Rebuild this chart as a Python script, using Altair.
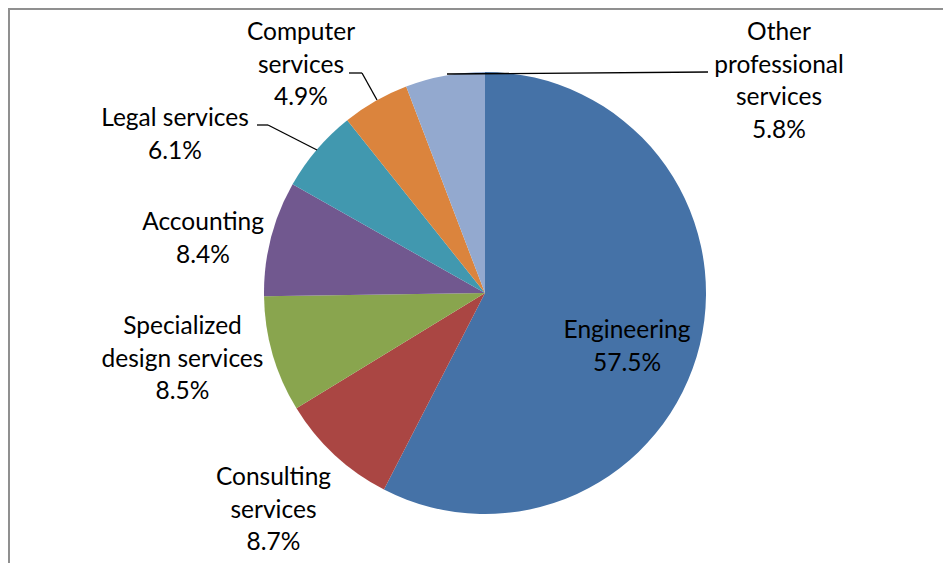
import altair as alt
import pandas as pd

# ---- data ----
categories = ["Engineering", "Consulting services", "Specialized design services",
              "Accounting", "Legal services", "Computer services",
              "Other professional services"]
shares = [57.5, 8.7, 8.5, 8.4, 6.1, 4.9, 5.8]
colors = ["#4572A7", "#AA4643", "#89A54E", "#71588F", "#4198AF", "#DB843D", "#93A9CF"]
label_lines = [["Engineering"], ["Consulting", "services"], ["Specialized", "design services"],
               ["Accounting"], ["Legal services"], ["Computer", "services"],
               ["Other", "professional", "services"]]

# ---- layout (annotation placement, pixels inside the chart; y = first line) ----
W, H = 935, 555
CX, CY, R = 477, 285, 221
label_pos = [(619, 323), (265.5, 470), (174.5, 319), (195, 215), (167, 111), (293, 25), (771, 25)]
leaders = [  # x, y, x2, y2
    (249, 117, 260, 117), (260, 117, 309, 142),
    (341, 65, 354, 65), (354, 65, 369, 92),
    (439, 66, 700, 64),
]

pie_df = pd.DataFrame({"cat": categories, "share": shares, "order": list(range(len(categories)))})
lab_df = pd.DataFrame({
    "text": [lines + [f"{s:.1f}%"] for lines, s in zip(label_lines, shares)],
    "x": [p[0] for p in label_pos],
    "y": [p[1] for p in label_pos],
})
lead_df = pd.DataFrame(leaders, columns=["x", "y", "x2", "y2"])

pie = alt.Chart(pie_df).mark_arc(outerRadius=R).encode(
    theta=alt.Theta("share:Q", stack=True),
    order=alt.Order("order:Q"),
    color=alt.Color("cat:N", scale=alt.Scale(domain=categories, range=colors), legend=None),
    x=alt.value(CX),
    y=alt.value(CY),
)

labels = alt.Chart(lab_df).mark_text(
    font="Lato", fontSize=24.5, lineHeight=32.5, align="center", baseline="middle", color="black"
).encode(
    x=alt.X("x:Q", scale=None, axis=None),
    y=alt.Y("y:Q", scale=None, axis=None),
    text="text",
)

lead = alt.Chart(lead_df).mark_rule(color="black", strokeWidth=1.3).encode(
    x=alt.X("x:Q", scale=None, axis=None),
    y=alt.Y("y:Q", scale=None, axis=None),
    x2="x2:Q",
    y2="y2:Q",
)

frame_top = alt.Chart(pie_df).mark_rule(color="#8f8f8f", strokeWidth=1.5).encode(
    x=alt.value(0), x2=alt.value(W), y=alt.value(0.75))
frame_left = alt.Chart(pie_df).mark_rule(color="#8f8f8f", strokeWidth=1.5).encode(
    x=alt.value(0.75), y=alt.value(0), y2=alt.value(H))

chart = alt.layer(frame_top, frame_left, pie, lead, labels).properties(
    width=W, height=H, padding=0, autosize="none", background="white"
).configure_view(stroke=None)

chart.save("out.html", embed_options={"renderer": "svg", "actions": False})
